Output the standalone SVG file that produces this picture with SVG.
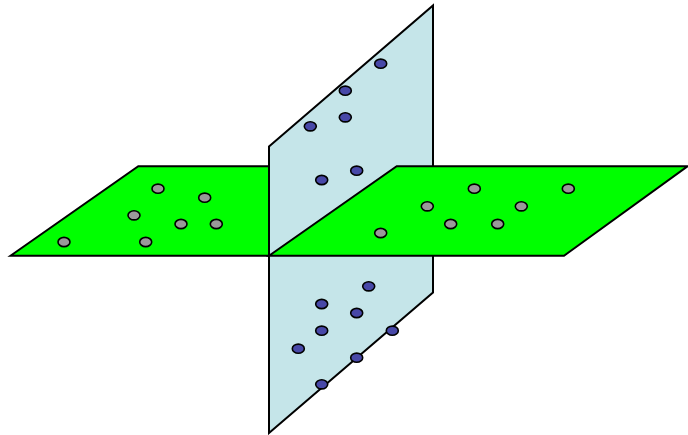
<svg xmlns="http://www.w3.org/2000/svg" width="688" height="435" viewBox="0 0 688 435">
<style>
.plane{stroke:#000;stroke-width:2;stroke-linejoin:miter}
.blue{fill:#c5e5e9}
.green{fill:#00ff00}
.g{fill:#999999;stroke:#000;stroke-width:1.6}
.b{fill:#4848a8;stroke:#000;stroke-width:1.6}
</style>
<rect width="688" height="435" fill="#fff"/>
<g id="vertical-plane">
<polygon class="plane blue" points="269,146.5 433,5.5 433,292.5 269,433"/>
</g>
<g id="horizontal-plane-left">
<polygon class="plane green" points="10.5,255.7 138.3,166.3 269,166.3 269,255.7"/>
</g>
<g id="horizontal-plane-right">
<polygon class="plane green" points="269,255.7 396.7,166.3 687.5,166.3 564,255.7"/>
</g>
<g id="points-horizontal">
<ellipse class="g" cx="158" cy="188.7" rx="6" ry="4.6"/>
<ellipse class="g" cx="204.7" cy="197.7" rx="6" ry="4.6"/>
<ellipse class="g" cx="134" cy="215.3" rx="6" ry="4.6"/>
<ellipse class="g" cx="181" cy="224" rx="6" ry="4.6"/>
<ellipse class="g" cx="216.3" cy="224" rx="6" ry="4.6"/>
<ellipse class="g" cx="64" cy="242" rx="6" ry="4.6"/>
<ellipse class="g" cx="145.7" cy="242" rx="6" ry="4.6"/>
<ellipse class="g" cx="474.3" cy="188.7" rx="6" ry="4.6"/>
<ellipse class="g" cx="568.3" cy="188.7" rx="6" ry="4.6"/>
<ellipse class="g" cx="427.3" cy="206.3" rx="6" ry="4.6"/>
<ellipse class="g" cx="521.3" cy="206.3" rx="6" ry="4.6"/>
<ellipse class="g" cx="450.7" cy="224" rx="6" ry="4.6"/>
<ellipse class="g" cx="497.7" cy="224" rx="6" ry="4.6"/>
<ellipse class="g" cx="380.7" cy="233" rx="6" ry="4.6"/>
</g>
<g id="points-vertical">
<ellipse class="b" cx="380.7" cy="63.7" rx="6" ry="4.6"/>
<ellipse class="b" cx="345.3" cy="90.7" rx="6" ry="4.6"/>
<ellipse class="b" cx="345.3" cy="117.3" rx="6" ry="4.6"/>
<ellipse class="b" cx="310.3" cy="126.3" rx="6" ry="4.6"/>
<ellipse class="b" cx="356.7" cy="170.7" rx="6" ry="4.6"/>
<ellipse class="b" cx="321.7" cy="180" rx="6" ry="4.6"/>
<ellipse class="b" cx="368.7" cy="286.3" rx="6" ry="4.6"/>
<ellipse class="b" cx="321.7" cy="304" rx="6" ry="4.6"/>
<ellipse class="b" cx="356.7" cy="313" rx="6" ry="4.6"/>
<ellipse class="b" cx="321.7" cy="330.7" rx="6" ry="4.6"/>
<ellipse class="b" cx="392.3" cy="330.7" rx="6" ry="4.6"/>
<ellipse class="b" cx="298.3" cy="348.7" rx="6" ry="4.6"/>
<ellipse class="b" cx="356.7" cy="357.7" rx="6" ry="4.6"/>
<ellipse class="b" cx="321.7" cy="384.3" rx="6" ry="4.6"/>
</g>
</svg>
